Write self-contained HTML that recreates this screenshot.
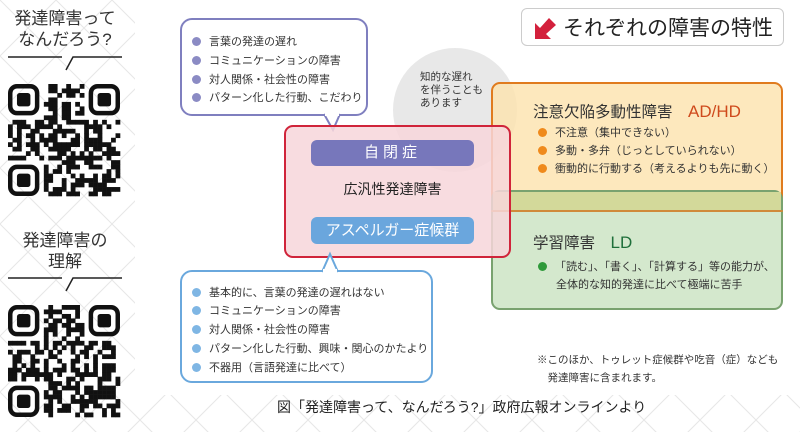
<!DOCTYPE html>
<html><head><meta charset="utf-8">
<style>
*{margin:0;padding:0;box-sizing:border-box}
body{width:800px;height:432px;overflow:hidden;background:#fff;font-family:"Liberation Sans","Noto Sans CJK JP",sans-serif;position:relative;color:#333}
.a{position:absolute}
.bub{position:absolute;background:#fff;border-radius:12px}
.li{position:absolute;font-size:11px;white-space:nowrap;color:#333}
.dot{display:inline-block;width:9px;height:9px;border-radius:50%;margin-right:8px;vertical-align:-1px}
</style></head><body>
<svg class="a" style="left:0;top:0" width="800" height="432">
<defs><pattern id="lat" width="56" height="56" patternUnits="userSpaceOnUse"><path d="M0 0L56 56M56 0L0 56" stroke="#e6e6e6" stroke-width="1"/></pattern></defs>
<rect width="135" height="432" fill="url(#lat)"/>
<rect x="135" y="395" width="665" height="37" fill="url(#lat)"/>
<line x1="8" y1="57" x2="62" y2="57" stroke="#222" stroke-width="1.5"/><path d="M66 70L73 57H122" fill="none" stroke="#222" stroke-width="1.5"/>
<line x1="8" y1="278" x2="62" y2="278" stroke="#222" stroke-width="1.5"/><path d="M66 291L73 278H122" fill="none" stroke="#222" stroke-width="1.5"/>
<g id="q1"></g><g id="q2"></g>
<circle cx="455" cy="110" r="62" fill="#e4e4e4" opacity="0.85"/>
</svg>
<div class="a" style="left:0;top:8px;width:130px;text-align:center;font-size:17px;line-height:21px;color:#333">発達障害って<br>なんだろう?</div>
<div class="a" style="left:0;top:230px;width:130px;text-align:center;font-size:17px;line-height:21px;color:#333">発達障害の<br>理解</div>

<!-- top bubble -->
<div class="bub" style="left:180px;top:18px;width:188px;height:98px;border:2px solid #7f7fbf"></div>
<svg class="a" style="left:320px;top:113px" width="30" height="20"><path d="M4 1L13 17L20 1" fill="#fff" stroke="#7f7fbf" stroke-width="2"/><rect x="5" y="0" width="14" height="3" fill="#fff"/></svg>
<div class="li" style="left:192px;top:33px"><span class="dot" style="background:#8b8bc4"></span>言葉の発達の遅れ</div>
<div class="li" style="left:192px;top:52px"><span class="dot" style="background:#8b8bc4"></span>コミュニケーションの障害</div>
<div class="li" style="left:192px;top:71px"><span class="dot" style="background:#8b8bc4"></span>対人関係・社会性の障害</div>
<div class="li" style="left:192px;top:89px"><span class="dot" style="background:#8b8bc4"></span>パターン化した行動、こだわり</div>

<!-- title -->
<div class="a" style="left:521px;top:8px;width:263px;height:38px;border:1.5px solid #ccc;border-radius:6px;background:#fff"></div>
<svg class="a" style="left:531px;top:15px" width="28" height="26"><path d="M4 24V8l5 5L18 3l7 7-10 9 5 5z" fill="#d3203c"/></svg>
<div class="a" style="left:563px;top:12px;font-size:21px;color:#222;white-space:nowrap">それぞれの障害の特性</div>

<div class="a" style="left:420px;top:71px;font-size:10.5px;line-height:13px;color:#333">知的な遅れ<br>を伴うことも<br>あります</div>

<!-- orange -->
<div class="a" style="left:491px;top:82px;width:292px;height:130px;background:rgba(253,226,172,0.8);border:2px solid #e07b1e;border-radius:9px"></div>
<!-- green -->
<div class="a" style="left:491px;top:190px;width:292px;height:120px;background:rgba(205,228,196,0.85);border:2px solid #79a26f;border-radius:9px"></div>
<div class="a" style="left:493px;top:192px;width:288px;height:18px;background:#d3d99a"></div>
<div class="a" style="left:491px;top:210px;width:292px;height:2px;background:#d08a3a;border-radius:1px"></div>
<!-- red -->
<div class="a" style="left:284px;top:125px;width:227px;height:133px;background:rgba(247,214,218,0.85);border:2.5px solid #d0243a;border-radius:9px"></div>
<div class="a" style="left:311px;top:140px;width:163px;height:26px;background:#7777bb;border-radius:6px;color:#fff;font-size:15px;text-align:center;line-height:26px;letter-spacing:4px">自閉症</div>
<div class="a" style="left:284px;top:179px;width:217px;text-align:center;font-size:14px;color:#222">広汎性発達障害</div>
<div class="a" style="left:311px;top:217px;width:163px;height:27px;background:#6aa6dd;border-radius:6px;color:#fff;font-size:15px;text-align:center;line-height:27px">アスペルガー症候群</div>

<div class="a" style="left:533px;top:100px;font-size:15.5px;color:#333;white-space:nowrap">注意欠陥多動性障害　<span style="color:#cf4a1c;font-size:17px">AD/HD</span></div>
<div class="li" style="left:538px;top:124px"><span class="dot" style="background:#ef8a1c"></span>不注意（集中できない）</div>
<div class="li" style="left:538px;top:142px"><span class="dot" style="background:#ef8a1c"></span>多動・多弁（じっとしていられない）</div>
<div class="li" style="left:538px;top:160px"><span class="dot" style="background:#ef8a1c"></span>衝動的に行動する（考えるよりも先に動く）</div>

<div class="a" style="left:533px;top:231px;font-size:15.5px;color:#333;white-space:nowrap">学習障害　<span style="color:#1f6f3a;font-size:17px">LD</span></div>
<div class="li" style="left:538px;top:258px"><span class="dot" style="background:#2f9a3a"></span>「読む」、「書く」、「計算する」等の能力が、</div>
<div class="li" style="left:556px;top:276px">全体的な知的発達に比べて極端に苦手</div>

<!-- bottom bubble -->
<div class="bub" style="left:180px;top:270px;width:253px;height:113px;border:2px solid #6aa8dd"></div>
<svg class="a" style="left:318px;top:250px" width="30" height="23"><path d="M4 22L12 4L20 22" fill="#fff" stroke="#6aa8dd" stroke-width="2"/><rect x="5" y="19" width="14" height="5" fill="#fff"/></svg>
<div class="li" style="left:192px;top:284px"><span class="dot" style="background:#7fb6e4"></span>基本的に、言葉の発達の遅れはない</div>
<div class="li" style="left:192px;top:302px"><span class="dot" style="background:#7fb6e4"></span>コミュニケーションの障害</div>
<div class="li" style="left:192px;top:321px"><span class="dot" style="background:#7fb6e4"></span>対人関係・社会性の障害</div>
<div class="li" style="left:192px;top:340px"><span class="dot" style="background:#7fb6e4"></span>パターン化した行動、興味・関心のかたより</div>
<div class="li" style="left:192px;top:359px"><span class="dot" style="background:#7fb6e4"></span>不器用（言語発達に比べて）</div>

<div class="a" style="left:537px;top:351px;font-size:10.5px;line-height:18px;color:#333;white-space:nowrap">※このほか、トゥレット症候群や吃音（症）なども<br>　発達障害に含まれます。</div>

<div class="a" style="left:277px;top:397px;font-size:14px;color:#222;white-space:nowrap">図「発達障害って、なんだろう?」政府広報オンラインより</div>

<script>
function qr(id,x0,y0,size,seed){
 var g=document.getElementById(id),n=25,m=size/n,s='',r=seed;
 function rnd(){r=(r*1103515245+12345)%2147483648;return r/2147483648;}
 function inF(i,j){return (i<8&&j<8)||(i<8&&j>=n-8)||(i>=n-8&&j<8);}
 for(var i=0;i<n;i++)for(var j=0;j<n;j++){if(inF(i,j))continue;if(rnd()<0.55)s+='<rect x="'+(x0+j*m)+'" y="'+(y0+i*m)+'" width="'+(m+0.3)+'" height="'+(m+0.3)+'" fill="#111"/>';}
 [[0,0],[0,n-7],[n-7,0]].forEach(function(p){var x=x0+p[1]*m,y=y0+p[0]*m;
 s+='<rect x="'+(x+m/2)+'" y="'+(y+m/2)+'" width="'+(6*m)+'" height="'+(6*m)+'" rx="'+(1.5*m)+'" fill="none" stroke="#111" stroke-width="'+m+'"/>';
 s+='<rect x="'+(x+2*m)+'" y="'+(y+2*m)+'" width="'+(3*m)+'" height="'+(3*m)+'" rx="'+(0.6*m)+'" fill="#111"/>';});
 g.innerHTML=s;
}
qr('q1',8,84,112,7);qr('q2',8,305,112,91);
</script>
</body></html>
